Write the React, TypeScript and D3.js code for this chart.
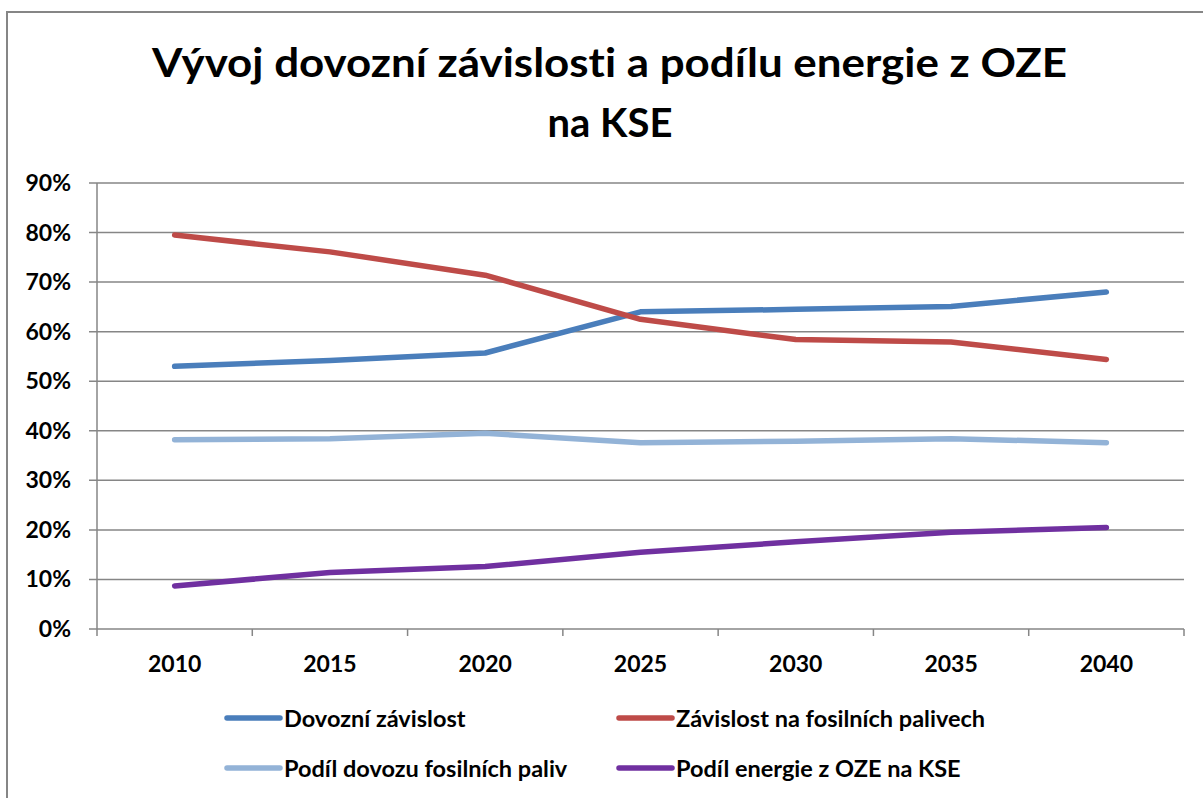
import React from "react";
import * as d3 from "d3";

const years = ["2010", "2015", "2020", "2025", "2030", "2035", "2040"];
const dovozniZavislost = [0.53, 0.542, 0.557, 0.64, 0.645, 0.651, 0.68];
const zavislostFosilni = [0.795, 0.761, 0.714, 0.625, 0.584, 0.579, 0.544];
const podilDovozu = [0.382, 0.384, 0.395, 0.376, 0.379, 0.384, 0.376];
const podilOZE = [0.087, 0.114, 0.126, 0.155, 0.176, 0.195, 0.205];
const yTicks = [0, 0.1, 0.2, 0.3, 0.4, 0.5, 0.6, 0.7, 0.8, 0.9];

const seriesNames = [
  "Dovozní závislost",
  "Závislost na fosilních palivech",
  "Podíl dovozu fosilních paliv",
  "Podíl energie z OZE na KSE",
];
const seriesColors = ["#4A7EBB", "#BE4B48", "#93B3D7", "#7030A0"];
const seriesValues = [dovozniZavislost, zavislostFosilni, podilDovozu, podilOZE];

const W = 1203;
const H = 798;
const FONT = "Lato, 'Open Sans', sans-serif";
const textStyle = { fontVariantLigatures: "none" as const };

export default function App() {
  const x = d3.scaleBand<string>().domain(years).range([97, 1184]);
  const y = d3.scaleLinear().domain([0, 0.9]).range([629, 183]);
  const line = d3
    .line<number>()
    .x((_, i) => (x(years[i]) as number) + x.bandwidth() / 2)
    .y((d) => y(d));

  const legendPos = [
    { lx: 227, ly: 718 },
    { lx: 619, ly: 718 },
    { lx: 227, ly: 768 },
    { lx: 619, ly: 768 },
  ];

  return (
    <svg
      width={W}
      height={H}
      style={{ position: "absolute", left: 0, top: 0, background: "#fff" }}
    >
      <rect x={0} y={0} width={W} height={H} fill="#fff" />
      <rect x={7} y={12} width={W + 20} height={H + 20} fill="none" stroke="#868686" strokeWidth={2} />

      <text
        x={609.5}
        y={77}
        textAnchor="middle"
        fontFamily={FONT}
        fontWeight={700}
        fontSize={40}
        fill="#000"
        textLength={915}
        lengthAdjust="spacingAndGlyphs"
        style={textStyle}
      >
        Vývoj dovozní závislosti a podílu energie z OZE
      </text>
      <text
        x={610}
        y={137}
        textAnchor="middle"
        fontFamily={FONT}
        fontWeight={700}
        fontSize={40}
        fill="#000"
        style={textStyle}
      >
        na KSE
      </text>

      {yTicks.map((t) => (
        <g key={t}>
          <line x1={89} x2={1184} y1={y(t)} y2={y(t)} stroke="#868686" strokeWidth={1.5} />
          <text
            x={71}
            y={y(t) + 8}
            textAnchor="end"
            fontFamily={FONT}
            fontWeight={700}
            fontSize={23}
            fill="#000"
            style={textStyle}
          >
            {Math.round(t * 100)}%
          </text>
        </g>
      ))}
      <line x1={97} x2={97} y1={183} y2={636} stroke="#868686" strokeWidth={1.5} />
      {years.map((yr) => (
        <g key={yr}>
          <line
            x1={(x(yr) as number) + x.bandwidth()}
            x2={(x(yr) as number) + x.bandwidth()}
            y1={629}
            y2={636}
            stroke="#868686"
            strokeWidth={1.5}
          />
          <text
            x={(x(yr) as number) + x.bandwidth() / 2}
            y={671.5}
            textAnchor="middle"
            fontFamily={FONT}
            fontWeight={700}
            fontSize={23}
            fill="#000"
            style={textStyle}
          >
            {yr}
          </text>
        </g>
      ))}

      {seriesValues.map((vals, i) => (
        <path
          key={seriesNames[i]}
          d={line(vals) || ""}
          fill="none"
          stroke={seriesColors[i]}
          strokeWidth={5.5}
          strokeLinecap="round"
          strokeLinejoin="round"
        />
      ))}

      {seriesNames.map((name, i) => (
        <g key={name}>
          <line
            x1={legendPos[i].lx}
            x2={legendPos[i].lx + 53}
            y1={legendPos[i].ly}
            y2={legendPos[i].ly}
            stroke={seriesColors[i]}
            strokeWidth={5.5}
            strokeLinecap="round"
          />
          <text
            x={legendPos[i].lx + 57}
            y={legendPos[i].ly + 8.5}
            fontFamily={FONT}
            fontWeight={700}
            fontSize={23.5}
            fill="#000"
            style={textStyle}
          >
            {name}
          </text>
        </g>
      ))}
    </svg>
  );
}
